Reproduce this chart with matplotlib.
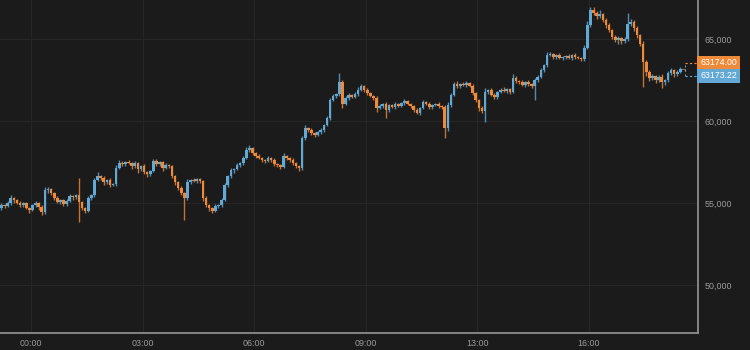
import numpy as np
import matplotlib
matplotlib.use("Agg")
import matplotlib.pyplot as plt
from matplotlib.transforms import offset_copy

plt.rcParams['font.family'] = ['Liberation Sans', 'DejaVu Sans']

# 5-minute candles, open of each candle = previous close
first_open = 54691
closes = [
    54874, 54813, 54996, 55301, 55179, 54996, 54874, 54996, 54691, 54569,
    54874, 54996, 54752, 54447, 55789, 55850, 55606, 55301, 55057, 55179,
    54935, 55118, 55423, 55362, 55484, 55057, 54691, 54508, 55301, 55484,
    56399, 56643, 56521, 56277, 56399, 56094, 56155, 57131, 57436, 57375,
    57497, 57436, 57253, 57436, 57070, 57253, 56887, 56765, 56948, 57558,
    57375, 57497, 57131, 57314, 57253, 56643, 56277, 55911, 55606, 55301,
    56277, 56399, 56338, 56460, 56338, 55301, 54874, 54691, 54508, 54813,
    54874, 55179, 56094, 56643, 57009, 57070, 57314, 57436, 57741, 58229,
    58351, 58046, 57863, 57741, 57619, 57558, 57741, 57619, 57375, 57314,
    57192, 57863, 57741, 57619, 57436, 57253, 57131, 58961, 59571, 59449,
    59266, 59144, 59327, 59449, 59754, 60181, 61279, 61523, 61645, 62377,
    61035, 61401, 61584, 61462, 61645, 61889, 62133, 61889, 61706, 61523,
    61401, 60791, 60913, 61035, 60669, 60974, 60852, 61035, 60913, 61096,
    61218, 61035, 60913, 60669, 60486, 60791, 61157, 61035, 60852, 60974,
    61035, 60913, 60852, 59571, 60974, 61584, 62255, 62133, 62255, 62194,
    62316, 62133, 61706, 61279, 60791, 60608, 61767, 61889, 61584, 61462,
    61767, 61889, 61828, 61950, 61767, 62621, 62438, 62377, 62194, 62377,
    62255, 62133, 62499, 62682, 63109, 63414, 64024, 64085, 63902, 64024,
    63841, 63902, 63963, 63841, 64024, 63902, 63841, 63780, 64451, 65854,
    66769, 66586, 66403, 66525, 66159, 65854, 65549, 65122, 64939, 65061,
    64878, 65000, 65915, 66037, 65671, 65244, 64695, 63597, 62987, 62621,
    62743, 62499, 62682, 62377, 62499, 62926, 63109, 62865, 62987, 63174,
]
# how far each wick reaches above / below the body, in dollars
wick_up = [
    120, 90, 150, 180, 60, 90, 120, 60, 90, 60,
    90, 150, 60, 120, 180, 120, 90, 60, 120, 90,
    60, 120, 150, 90, 60, 0, 90, 60, 120, 90,
    150, 240, 90, 120, 60, 150, 90, 180, 180, 120,
    90, 150, 60, 120, 90, 60, 120, 90, 60, 150,
    120, 90, 60, 150, 90, 60, 90, 60, 120, 60,
    180, 90, 120, 60, 90, 60, 120, 90, 60, 120,
    90, 150, 120, 90, 150, 60, 120, 90, 150, 180,
    180, 90, 60, 120, 90, 60, 150, 90, 120, 60,
    90, 210, 90, 60, 120, 90, 60, 150, 180, 90,
    120, 90, 60, 150, 90, 120, 150, 120, 90, 0,
    0, 150, 120, 90, 120, 180, 150, 90, 120, 60,
    90, 150, 120, 90, 120, 60, 90, 120, 60, 90,
    120, 90, 60, 90, 120, 60, 150, 90, 120, 60,
    90, 120, 90, 120, 180, 150, 120, 180, 90, 120,
    150, 90, 120, 90, 60, 120, 240, 90, 150, 120,
    90, 120, 180, 90, 60, 240, 150, 90, 120, 90,
    120, 90, 150, 120, 150, 90, 180, 120, 90, 60,
    120, 90, 60, 150, 90, 120, 60, 90, 180, 240,
    0, 180, 120, 240, 90, 150, 120, 90, 150, 120,
    90, 120, 0, 180, 150, 120, 90, 180, 150, 120,
    150, 90, 120, 180, 90, 150, 120, 90, 120, 90,
]
wick_dn = [
    90, 120, 60, 90, 150, 60, 90, 120, 60, 150,
    60, 90, 150, 0, 120, 150, 90, 120, 60, 90,
    120, 90, 60, 150, 120, 0, 120, 90, 60, 120,
    90, 60, 120, 150, 90, 120, 60, 90, 60, 120,
    90, 60, 150, 90, 0, 120, 90, 150, 120, 60,
    90, 120, 150, 60, 90, 120, 150, 90, 120, 0,
    90, 120, 60, 90, 120, 150, 120, 180, 90, 60,
    120, 90, 60, 120, 90, 150, 60, 90, 120, 60,
    90, 120, 150, 60, 90, 120, 60, 90, 150, 120,
    90, 60, 120, 90, 150, 120, 180, 90, 120, 150,
    90, 120, 60, 90, 120, 60, 120, 90, 150, 120,
    0, 90, 120, 60, 90, 120, 60, 150, 120, 90,
    150, 240, 90, 120, 0, 120, 90, 150, 60, 90,
    120, 90, 150, 120, 90, 120, 60, 90, 150, 120,
    90, 120, 150, 0, 180, 120, 90, 120, 150, 90,
    120, 90, 150, 120, 180, 150, 0, 120, 90, 150,
    120, 90, 60, 120, 150, 90, 120, 150, 90, 120,
    150, 120, 0, 120, 90, 150, 120, 90, 150, 120,
    90, 150, 120, 90, 150, 120, 90, 150, 120, 90,
    150, 120, 180, 150, 120, 180, 150, 120, 150, 240,
    180, 150, 120, 150, 180, 210, 150, 0, 240, 180,
    150, 210, 120, 0, 180, 150, 120, 180, 150, 90,
]
# longer wicks read individually: candle index -> (high, low)
wicks = {
    13: (None, 54264), 25: (56521, 53837), 44: (None, 56826), 59: (None, 53959),
    109: (62926, None), 110: (62499, 60791), 124: (None, 60181),
    143: (None, 58961), 156: (None, 59937), 172: (None, 61279), 190: (66952, None),
    202: (66586, None), 207: (None, 62072), 213: (None, 62011),
}
last_price = 63174.00
index_price = 63173.22

tick_pos = [9.5, 45.5, 81.5, 117.5, 153.5, 189.5]
tick_labels = ['00:00', '03:00', '06:00', '09:00', '13:00', '16:00']
y_ticks = [50000, 55000, 60000, 65000]

bg = '#1b1b1b'
up_col = '#63a9d6'
down_col = '#ee8b3a'

closes = np.array(closes, dtype=float)
opens = np.concatenate([[first_open], closes[:-1]])
highs = np.maximum(opens, closes) + np.array(wick_up)
lows = np.minimum(opens, closes) - np.array(wick_dn)
for i, (h, l) in wicks.items():
    if h is not None:
        highs[i] = h
    if l is not None:
        lows[i] = l
x = np.arange(len(closes))
colors = np.where(closes >= opens, up_col, down_col)

fig = plt.figure(figsize=(7.5, 3.5), dpi=100, facecolor=bg)
ax = fig.add_axes([0, 17 / 350, 698 / 750, 333 / 350], facecolor=bg)

ax.vlines(x, lows, highs, colors=colors, linewidth=1.0, alpha=0.8, zorder=2)
body = np.maximum(np.abs(closes - opens), 80)
ax.bar(x, body, bottom=np.minimum(opens, closes), width=0.85,
       color=colors, linewidth=0, zorder=3)

ax.set_xlim(-0.48, 224.7)
ax.set_ylim(47072, 67378)
ax.set_xticks(tick_pos)
ax.set_xticklabels(tick_labels)
ax.set_yticks(y_ticks)
ax.set_yticklabels([f'{v:,}' for v in y_ticks])
ax.yaxis.tick_right()
ax.tick_params(axis='both', length=0, colors='#9c9c9c', labelsize=6.4)
ax.tick_params(axis='y', pad=5)
ax.tick_params(axis='x', pad=4)
ax.grid(True, color='#262626', linewidth=0.8)
ax.set_axisbelow(True)
for s in ['top', 'left']:
    ax.spines[s].set_visible(False)
for s in ['right', 'bottom']:
    ax.spines[s].set_color('#8c8c8c')
    ax.spines[s].set_linewidth(1.3)

# last price markers
tr_up = offset_copy(ax.transData, fig=fig, x=0, y=6, units='dots')
tr_dn = offset_copy(ax.transData, fig=fig, x=0, y=-7, units='dots')
xe = len(closes) - 1
ax.plot([xe + 0.6, xe + 1.6], [last_price, last_price], color='#777777',
        linewidth=0.8, clip_on=False)
ax.plot([xe + 1.6, 224.7], [last_price, last_price],
        color=down_col, linewidth=0.8, ls=(0, (2, 2)), clip_on=False, transform=tr_up)
ax.plot([xe + 1.6, 224.7], [index_price, index_price],
        color=up_col, linewidth=0.8, ls=(0, (2, 2)), clip_on=False, transform=tr_dn)
fig.canvas.draw()
inv = ax.transData.inverted()
y_up = inv.transform(tr_up.transform((xe + 1.6, last_price)))[1]
y_dn = inv.transform(tr_dn.transform((xe + 1.6, index_price)))[1]
ax.plot([xe + 1.6, xe + 1.6], [y_dn, y_up], color='#888888', linewidth=0.8,
        ls=(0, (2, 2)), clip_on=False)

for val, yy, col in [(last_price, y_up, down_col), (index_price, y_dn, up_col)]:
    ax.text(1.003, yy, f'{val:.2f}', transform=ax.get_yaxis_transform(),
            ha='left', va='center', fontsize=6.3, color='white',
            bbox=dict(boxstyle='square,pad=0.32', fc=col, ec='none'))

fig.savefig('out.png', dpi=100, facecolor=bg)
